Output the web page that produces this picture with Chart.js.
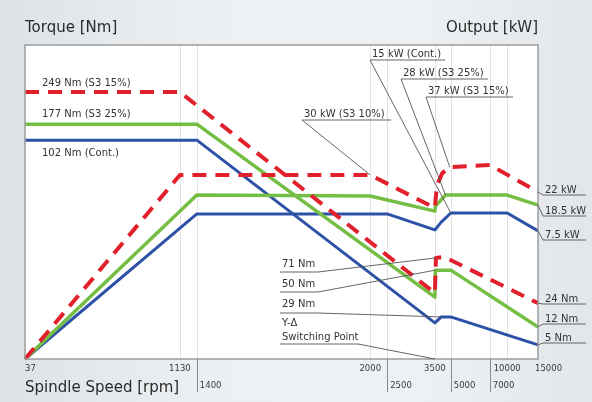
<!DOCTYPE html>
<html>
<head>
<meta charset="utf-8">
<script src="https://cdn.jsdelivr.net/npm/chart.js@4.4.1/dist/chart.umd.min.js"></script>
<style>
  html, body { margin: 0; padding: 0; }
  body {
    width: 592px; height: 402px; overflow: hidden;
    background: linear-gradient(to right, #dce2e7 0%, #edf0f2 35%, #eef1f3 70%, #e1e6ea 100%);
  }
  #wrap { position: relative; width: 592px; height: 402px; }
</style>
</head>
<body>
<div id="wrap"><canvas id="chart" width="592" height="402"></canvas></div>
<script>
// spindle speed ticks (rpm) and where they sit along the axis (schematic, not to scale)
const rpmTicks = [37, 1130, 1400, 2000, 2500, 3500, 5000, 7000, 10000, 15000];
const tickFrac = [0, 0.302, 0.335, 0.673, 0.706, 0.799, 0.830, 0.906, 0.940, 1];
const lowerTicks = [1400, 2500, 5000, 7000];

// curve levels (0 = axis, 100 = top of plot)
const redTqRpm = [37, 1130, 3500, 3600, 4400, 15000];
const redTqVal = [85.0, 85.0, 21.0, 32.2, 32.5, 17.8];
const greenTqRpm = [37, 1400, 3500, 3550, 5000, 15000];
const greenTqVal = [74.8, 74.8, 19.7, 28.3, 28.3, 10.2];
const blueTqRpm = [37, 1400, 3500, 4100, 5000, 15000];
const blueTqVal = [69.7, 69.7, 11.5, 13.4, 13.4, 4.5];

const redPwRpm = [37, 1130, 2000, 3500, 3560, 3700, 4200, 4900, 7000, 15000];
const redPwVal = [0, 58.6, 58.6, 48.1, 50.6, 55.4, 59.2, 61.1, 61.8, 53.2];
const greenPwRpm = [37, 1400, 2000, 3500, 3550, 4500, 10000, 15000];
const greenPwVal = [0, 52.2, 51.9, 47.1, 48.7, 52.2, 52.2, 49.0];
const bluePwRpm = [37, 1400, 2500, 3500, 4100, 5000, 10000, 15000];
const bluePwVal = [0, 46.2, 46.2, 41.1, 43.6, 46.5, 46.5, 40.8];

const RED = '#e2202b', GREEN = '#74be44', BLUE = '#2c51a6';

function pts(xs, ys) { return xs.map((x, i) => ({ x: x, y: ys[i] })); }

// piecewise axis: rpm -> position between the tick marks
class RpmScale extends Chart.LinearScale {
  getPixelForValue(v) {
    let i = 1;
    while (i < rpmTicks.length - 1 && v > rpmTicks[i]) i++;
    const a = rpmTicks[i - 1], b = rpmTicks[i];
    const f = tickFrac[i - 1] + (v - a) / (b - a) * (tickFrac[i] - tickFrac[i - 1]);
    return this.left + f * (this.right - this.left);
  }
  getValueForPixel(p) {
    const f = (p - this.left) / (this.right - this.left);
    let i = 1;
    while (i < tickFrac.length - 1 && f > tickFrac[i]) i++;
    return rpmTicks[i - 1] + (f - tickFrac[i - 1]) / (tickFrac[i] - tickFrac[i - 1]) * (rpmTicks[i] - rpmTicks[i - 1]);
  }
}
RpmScale.id = 'rpm';
Chart.register(RpmScale);

function line(ctx, p) {
  ctx.beginPath();
  ctx.moveTo(p[0][0], p[0][1]);
  for (let i = 1; i < p.length; i++) ctx.lineTo(p[i][0], p[i][1]);
  ctx.stroke();
}

const decor = {
  id: 'decor',
  beforeDatasetsDraw(chart) {
    const { ctx, chartArea: a, scales: { x } } = chart;
    ctx.save();
    ctx.fillStyle = '#fff';
    ctx.fillRect(a.left, a.top, a.right - a.left, a.bottom - a.top);
    ctx.strokeStyle = '#e2e2e2';
    ctx.lineWidth = 1;
    rpmTicks.slice(1, -1).forEach(r => {
      const px = Math.round(x.getPixelForValue(r)) + 0.5;
      line(ctx, [[px, a.top], [px, a.bottom]]);
    });
    ctx.restore();
  },
  afterDatasetsDraw(chart) {
    const { ctx, chartArea: a, scales: { x } } = chart;
    const pt = (d, i) => { const e = chart.getDatasetMeta(d).data[i]; return [e.x, e.y]; };
    ctx.save();
    // plot frame
    ctx.strokeStyle = '#9c9c9c';
    ctx.lineWidth = 1.5;
    ctx.strokeRect(a.left, a.top, a.right - a.left, a.bottom - a.top);

    // axis titles
    ctx.fillStyle = '#2a2a2a';
    ctx.font = '15px "DejaVu Sans"';
    ctx.textBaseline = 'alphabetic';
    ctx.textAlign = 'left';
    ctx.fillText('Torque [Nm]', 25, 32);
    ctx.fillText('Spindle Speed [rpm]', 25, 392);
    ctx.textAlign = 'right';
    ctx.fillText('Output [kW]', 538, 32);

    // rpm tick labels, two rows
    ctx.font = '8.5px "DejaVu Sans"';
    ctx.fillStyle = '#3a3a3a';
    ctx.strokeStyle = '#8a8a8a';
    ctx.lineWidth = 1;
    rpmTicks.forEach((r, i) => {
      const px = x.getPixelForValue(r);
      if (lowerTicks.includes(r)) {
        const lx = Math.round(px) + 0.5;
        line(ctx, [[lx, a.bottom], [lx, a.bottom + 33]]);
        ctx.textAlign = 'left';
        ctx.fillText(String(r), px + 3, 388);
      } else {
        ctx.textAlign = i === 0 ? 'left' : (i === rpmTicks.length - 1 ? 'left' : 'center');
        ctx.fillText(String(r), i === rpmTicks.length - 1 ? px - 3 : px, 371);
      }
    });

    // curve labels
    ctx.font = '10px "DejaVu Sans"';
    ctx.fillStyle = '#333';
    ctx.textAlign = 'left';
    ctx.fillText('249 Nm (S3 15%)', 42, 85.5);
    ctx.fillText('177 Nm (S3 25%)', 42, 116.5);
    ctx.fillText('102 Nm (Cont.)', 42, 155.5);

    ctx.strokeStyle = '#555';
    ctx.lineWidth = 0.9;
    // top callouts: text, underline, leader to the curve
    const top = [
      ['15 kW (Cont.)', 372, 56.5, 370, 445, 60, pt(5, 5)],
      ['28 kW (S3 25%)', 403, 75.5, 401, 488, 79, pt(3, 5)],
      ['37 kW (S3 15%)', 428, 93.5, 426, 513, 97, pt(1, 7)],
      ['30 kW (S3 10%)', 304, 116.5, 302, 391, 120, pt(1, 2)]
    ];
    top.forEach(([t, tx, ty, u0, u1, uy, p]) => {
      ctx.fillText(t, tx, ty);
      line(ctx, [[u1, uy], [u0, uy], p]);
    });

    // lower callouts
    const low = [
      ['71 Nm', 266.5, 272, pt(0, 3)],
      ['50 Nm', 286.5, 292, pt(2, 3)],
      ['29 Nm', 306.5, 313, pt(4, 3)]
    ];
    low.forEach(([t, ty, uy, p]) => {
      ctx.fillText(t, 282, ty);
      line(ctx, [[280, uy], [318, uy], p]);
    });
    ctx.fillText('Y-\u0394', 282, 325.5);
    ctx.fillText('Switching Point', 282, 339.5);
    line(ctx, [[280, 344], [358, 344], [x.getPixelForValue(3500), a.bottom]]);

    // right-hand end labels
    const right = [
      ['22 kW', 189, pt(1, 9)],
      ['18.5 kW', 210, pt(3, 7)],
      ['7.5 kW', 234, pt(5, 7)],
      ['24 Nm', 298, pt(0, 5)],
      ['12 Nm', 318, pt(2, 5)],
      ['5 Nm', 337, pt(4, 5)]
    ];
    right.forEach(([t, ty, p]) => {
      ctx.fillText(t, 545, ty + 3.5);
      line(ctx, [p, [543, ty + 6], [586, ty + 6]]);
    });
    ctx.restore();
  }
};

const common = { pointRadius: 0, fill: false, clip: false, borderJoinStyle: 'round', borderCapStyle: 'butt' };

new Chart(document.getElementById('chart').getContext('2d'), {
  type: 'line',
  data: {
    datasets: [
      Object.assign({ data: pts(redTqRpm, redTqVal), borderColor: RED, borderWidth: 4, borderDash: [14, 9] }, common),
      Object.assign({ data: pts(redPwRpm, redPwVal), borderColor: RED, borderWidth: 4, borderDash: [14, 9] }, common),
      Object.assign({ data: pts(greenTqRpm, greenTqVal), borderColor: GREEN, borderWidth: 3.5 }, common),
      Object.assign({ data: pts(greenPwRpm, greenPwVal), borderColor: GREEN, borderWidth: 3.5 }, common),
      Object.assign({ data: pts(blueTqRpm, blueTqVal), borderColor: BLUE, borderWidth: 3 }, common),
      Object.assign({ data: pts(bluePwRpm, bluePwVal), borderColor: BLUE, borderWidth: 3 }, common)
    ]
  },
  options: {
    responsive: false,
    animation: false,
    layout: { padding: { left: 25, top: 45, right: 54, bottom: 43 } },
    scales: {
      x: { type: 'rpm', min: 37, max: 15000, display: false },
      y: { type: 'linear', min: 0, max: 100, display: false }
    },
    plugins: { legend: { display: false }, tooltip: { enabled: false } }
  },
  plugins: [decor]
});
</script>
</body>
</html>
